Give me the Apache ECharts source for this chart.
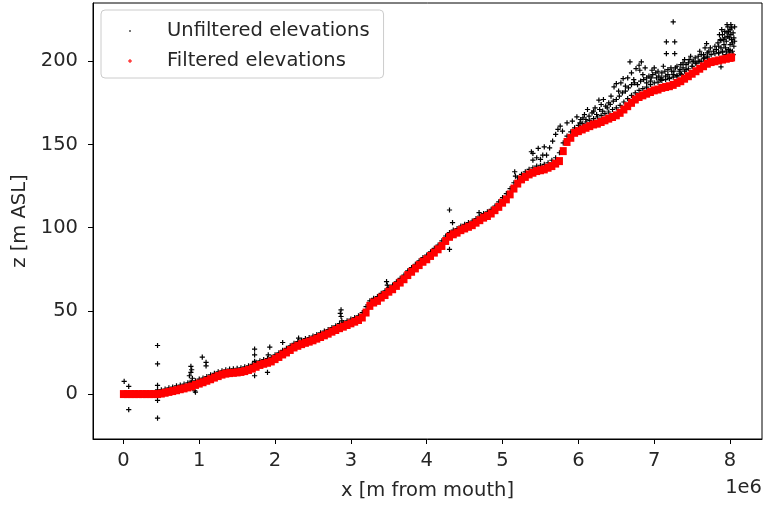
<!DOCTYPE html>
<html>
<head>
<meta charset="utf-8">
<script src="https://cdn.jsdelivr.net/npm/echarts@6/dist/echarts.min.js"></script>
<style>html,body{margin:0;padding:0;background:#fff;}#c{width:765px;height:512px;}</style>
</head>
<body>
<div id="c"></div>
<script>
// x values in units of 1e6 m (axis offset label "1e6"), z in m ASL
const xTickValues = [0, 1, 2, 3, 4, 5, 6, 7, 8];
const yTickValues = [0, 50, 100, 150, 200];

const filteredX = [0.00,0.05,0.10,0.15,0.20,0.25,0.30,0.35,0.40,0.45,0.50,0.55,0.60,0.65,0.70,0.75,0.80,0.85,0.90,0.95,
  1.00,1.05,1.10,1.15,1.20,1.25,1.30,1.35,1.40,1.45,1.50,1.55,1.60,1.65,1.70,1.75,1.80,1.85,1.90,1.95,
  2.00,2.05,2.10,2.15,2.20,2.25,2.30,2.35,2.40,2.45,2.50,2.55,2.60,2.65,2.70,2.75,2.80,2.85,2.90,2.95,
  3.00,3.05,3.10,3.15,3.20,3.25,3.30,3.35,3.40,3.45,3.50,3.55,3.60,3.65,3.70,3.75,3.80,3.85,3.90,3.95,
  4.00,4.05,4.10,4.15,4.20,4.25,4.30,4.35,4.40,4.45,4.50,4.55,4.60,4.65,4.70,4.75,4.80,4.85,4.90,4.95,
  5.00,5.05,5.10,5.15,5.20,5.25,5.30,5.35,5.40,5.45,5.50,5.55,5.60,5.65,5.70,5.75,5.80,5.85,5.90,5.95,
  6.00,6.05,6.10,6.15,6.20,6.25,6.30,6.35,6.40,6.45,6.50,6.55,6.60,6.65,6.70,6.75,6.80,6.85,6.90,6.95,
  7.00,7.05,7.10,7.15,7.20,7.25,7.30,7.35,7.40,7.45,7.50,7.55,7.60,7.65,7.70,7.75,7.80,7.85,7.90,7.95,
  8.00,8.02];
const filteredZ = [0,0,0,0,0,0,0,0,0,0,0.3,0.8,1.3,1.8,2.3,2.9,3.4,4,4.6,5.5,
  6.3,7.1,8,8.9,9.9,10.8,11.7,12.3,12.6,12.8,13,13.3,13.8,14.5,15.3,16.4,17.5,18.2,18.8,19.6,
  21,22.3,23.8,25,26.5,28,29,30,30.8,31.5,32.3,33.3,34.3,35.3,36.3,37.5,38.5,39.6,40.5,41.5,
  42.5,43.5,44.5,46,49,53,55,56,58,59.5,61.5,63,65,67,69,71.5,73.5,75.5,77.5,79.5,
  81,83,85,87,89,92,94.5,96,97,98.5,99.5,100.5,101.5,103,104.5,106,107,108.5,110.5,112.5,
  115,117,120,123.5,126.5,129,130.5,132,133,134,134.5,135,136,137,138.5,140,146,151.5,154,157,
  158,159,160,161,162,162.5,163.5,164.5,165.5,166.5,167.5,169,171,173,175,177,178.5,179.5,180.5,181.5,
  182.5,183,184,184.5,185,185.8,187,188,189.5,191,192.5,194,195.5,197,198.5,199.5,200,200.5,201,201.5,
  202,202.3];

const unfilteredTrendX = [0.50,0.55,0.60,0.65,0.70,0.75,0.80,0.85,0.90,0.95,
  1.00,1.05,1.10,1.15,1.20,1.25,1.30,1.35,1.40,1.45,1.50,1.55,1.60,1.65,1.70,1.75,1.80,1.85,1.90,1.95,
  2.00,2.05,2.10,2.15,2.20,2.25,2.30,2.35,2.40,2.45,2.50,2.55,2.60,2.65,2.70,2.75,2.80,2.85,2.90,2.95,
  3.00,3.05,3.10,3.15,3.20,3.25,3.30,3.35,3.40,3.45,3.50,3.55,3.60,3.65,3.70,3.75,3.80,3.85,3.90,3.95,
  4.00,4.05,4.10,4.15,4.20,4.25,4.30,4.35,4.40,4.45,4.50,4.55,4.60,4.65,4.70,4.75,4.80,4.85,4.90,4.95,
  5.00,5.05,5.10,5.15,5.20,5.25,5.30,5.35,5.40,5.45,5.50,5.55,5.60,5.65,5.70,5.75,5.80,5.85,5.90,5.95,
  6.00,6.05,6.10,6.15,6.20,6.25,6.30,6.35,6.40,6.45,6.50,6.55,6.60,6.65,6.70,6.75,6.80,6.85,6.90,6.95,
  7.00,7.05,7.10,7.15,7.20,7.25,7.30,7.35,7.40,7.45,7.50,7.55,7.60,7.65,7.70,7.75,7.80,7.85,7.90,7.95,8.00];
const unfilteredTrendZ = [2.5,3,3.8,4.2,5,5.4,6,6.8,7.2,8,
  9,9.6,10.5,11.5,12.4,13.3,14,14.6,15,15.2,15.5,15.8,16.3,17,17.8,19,20,20.7,21.3,22,
  23.5,24.8,26.3,27.5,29,30.5,31.5,32.5,33.3,34,34.8,35.8,36.8,37.8,38.8,40,41,42.3,43,44,
  45,46,47,49,52.5,56,57.5,58.5,60.5,62,64,65.5,67.5,69.5,71.5,74,76,78,80,82,
  83.5,85.5,87.5,89.5,92,95,97,98.5,99.5,101,102,103,104,105.5,107,108.5,109.5,111,113,115.5,
  118,120.5,123.5,127,130,132,133.5,135,136,137,137.5,138,139,140.5,142,145,151,155,157.5,160,
  161.5,162.5,163.5,164.5,165.5,166.5,167.5,168.5,169.5,171,172,173.5,175.5,177.5,179.5,181,182.5,183.5,184.5,186,
  187,187.5,188.5,189,189.5,190.5,191.5,192.5,194,195.5,197,198.5,200,201.5,203,204,204.5,205,205.5,206,206.5];

const unfilteredScatter = [
  [0.01,7.6],[0.07,4.6],[0.07,-9.4],[0.45,29.2],[0.45,18.2],[0.45,5.2],[0.45,2.6],[0.45,-3.8],[0.45,-14.4],
  [0.87,11],[0.89,13],[0.89,16.6],[0.90,14.6],[0.91,9.5],[0.88,7],[0.94,2],[0.95,1.2],[1.04,22.2],[1.09,19],[1.09,17],
  [1.73,27],[1.73,23.6],[1.73,19.6],[1.73,11],[1.74,16],[1.93,28.2],[1.90,13],[1.91,23.6],[2.10,31],[2.31,33.6],
  [2.87,50.6],[2.87,46.6],[2.86,48.5],[2.88,44],[3.47,67.6],[3.48,65.5],
  [4.30,110.6],[4.34,103],[4.30,87],[4.69,109],[5.16,133.6],[5.17,131],[5.20,128],
  [5.38,145.6],[5.40,144.6],[5.40,140.6],[5.47,147.6],[5.53,143.6],[5.55,148.6],[5.58,143.6],[5.45,142],[5.50,141],
  [5.62,148],[5.66,152],[5.70,156],[5.73,159],[5.76,161],[5.79,158],[5.85,163],[5.92,164],[5.98,166.6],[6.03,165],
  [6.08,168],[6.12,171],[6.18,169],[6.22,172],[6.27,176.6],[6.30,174],[6.33,177],[6.36,173],[6.40,175],[6.43,179],
  [6.47,184.6],[6.50,186.6],[6.53,182],[6.56,187],[6.59,189.6],[6.62,185],[6.65,190],[6.68,199.6],[6.70,193],[6.73,189],
  [6.76,195.6],[6.80,197.6],[6.83,199.6],[6.85,192],[6.88,196],[6.90,190],[6.81,194.6],[6.97,194.6],
  [6.95,188],[6.98,192],[7.00,196],[7.03,190],[7.05,194],[7.08,189],[7.10,193],[7.12,197],[7.15,191],[7.18,195],
  [7.20,190],[7.23,194],[7.25,192],[7.28,196],[7.30,191],[7.16,211.6],[7.27,211.6],[7.16,204.6],[7.27,204.6],[7.25,223.6],
  [7.33,194],[7.35,198],[7.38,196],[7.40,201],[7.42,195],[7.45,199],[7.48,203],[7.50,197],[7.52,200],[7.36,192],
  [7.55,199],[7.58,203],[7.60,206],[7.62,200],[7.65,204],[7.67,208],[7.69,210.6],[7.70,202],[7.72,206],[7.74,200],
  [7.85,205],[7.85,209],[7.87,213],[7.88,208],[7.88,212.6],[7.88,196.6],[7.90,216],[7.90,206],[7.92,210],[7.93,218],
  [7.95,204],[7.95,212],[7.97,215],[7.97,220.6],[7.98,207],[8.00,219],[8.00,210],[8.02,213],[8.03,206],[8.04,217],
  [8.05,209],[8.02,220],[7.96,222],[8.06,212],[8.06,220.6],
  [6.02,163],[6.06,166],[6.10,165],[6.14,167],[6.20,170],[6.24,168],[6.28,171],[6.32,170],[6.38,172],[6.42,174],
  [6.46,176],[6.50,177],[6.54,179],[6.58,181],[6.62,182],[6.66,184],[6.70,186],[6.74,187],[6.78,186],[6.82,188],
  [6.86,189],[6.90,187],[6.93,191],[6.96,190],[7.02,193],[7.06,191],[7.10,190],[7.14,194],[7.18,192],[7.22,196],
  [7.26,194],[7.30,197],[7.34,195],[7.38,199],[7.42,198],[7.46,201],[7.50,200],[7.54,202],[7.58,200],[7.62,204],
  [7.66,202],[7.70,205],[7.74,208],[7.78,206],[7.80,209],[7.82,207],[7.84,211],[7.86,216],[7.89,219],[7.91,213],
  [7.94,208],[7.96,217],[7.99,214],[8.01,216],[8.03,211],[8.05,214],[7.93,214],[7.98,218],[8.01,222],[7.99,205],
  [8.04,204],[7.91,203]
];

const plusThin = 'path://M2,0h1.2v2h2v1.2h-2v2h-1.2v-2h-2v-1.2h2z';
const legendDot = 'path://M0,0M8,8M3.3,3.3h1.4v1.4h-1.4z';
const legendPlus = 'path://M0,0M8,8M3.5,2h1v1.5h1.5v1h-1.5v1.5h-1v-1.5h-1.5v-1h1.5z';

const unfilteredData = unfilteredTrendX.map((x, i) => [x, unfilteredTrendZ[i]]).concat(unfilteredScatter);
const filteredData = filteredX.map((x, i) => [x, filteredZ[i]]);

const font = 'DejaVu Sans';
const fs = 19.5;
const chart = echarts.init(document.getElementById('c'), null, {renderer: 'canvas'});
chart.setOption({
  animation: false,
  backgroundColor: '#fff',
  grid: {left: 93, right: 3, top: 3, bottom: 73, show: true, borderColor: '#000', borderWidth: 1, backgroundColor: 'transparent'},
  xAxis: {
    type: 'value', min: -0.401, max: 8.421,
    axisLine: {show: true, onZero: false, lineStyle: {color: '#000', width: 1}},
    axisTick: {show: true, customValues: xTickValues, length: 5, lineStyle: {color: '#000'}},
    axisLabel: {customValues: xTickValues, fontSize: fs, fontFamily: font, color: '#262626', margin: 12,
      formatter: v => String(v)},
    splitLine: {show: false},
    name: 'x [m from mouth]', nameLocation: 'middle', nameGap: 42,
    nameTextStyle: {fontSize: fs, fontFamily: font, color: '#262626'}
  },
  yAxis: {
    type: 'value', min: -27, max: 235,
    axisLine: {show: true, onZero: false, lineStyle: {color: '#000', width: 1}},
    axisTick: {show: true, customValues: yTickValues, length: 5, lineStyle: {color: '#000'}},
    axisLabel: {customValues: yTickValues, fontSize: fs, fontFamily: font, color: '#262626', margin: 15},
    splitLine: {show: false},
    name: 'z [m ASL]', nameLocation: 'middle', nameGap: 56,
    nameTextStyle: {fontSize: fs, fontFamily: font, color: '#262626'}
  },
  legend: {
    left: 101, top: 10, orient: 'vertical',
    padding: [10, 14, 6, 25], itemGap: 8, itemWidth: 8, itemHeight: 8,
    selectedMode: false,
    backgroundColor: 'rgba(255,255,255,0.85)', borderColor: '#cccccc', borderWidth: 1, borderRadius: 4,
    textStyle: {fontSize: fs, fontFamily: font, color: '#262626', lineHeight: 22, padding: [0, 0, 0, 28]},
    data: [
      {name: 'Unfiltered elevations', icon: legendDot},
      {name: 'Filtered elevations', icon: legendPlus}
    ]
  },
  graphic: [{type: 'text', right: 3, top: 478, style: {text: '1e6', font: fs + 'px "DejaVu Sans"', fill: '#262626'}}],
  series: [
    {name: 'Unfiltered elevations', type: 'scatter', data: unfilteredData, symbol: plusThin, symbolSize: 5.2,
      itemStyle: {color: '#000', opacity: 1}, z: 2},
    {name: 'Filtered elevations', type: 'scatter', data: filteredData, symbol: 'rect', symbolSize: [7, 8],
      itemStyle: {color: '#ff0000', opacity: 1}, z: 3}
  ]
});
</script>
</body>
</html>
